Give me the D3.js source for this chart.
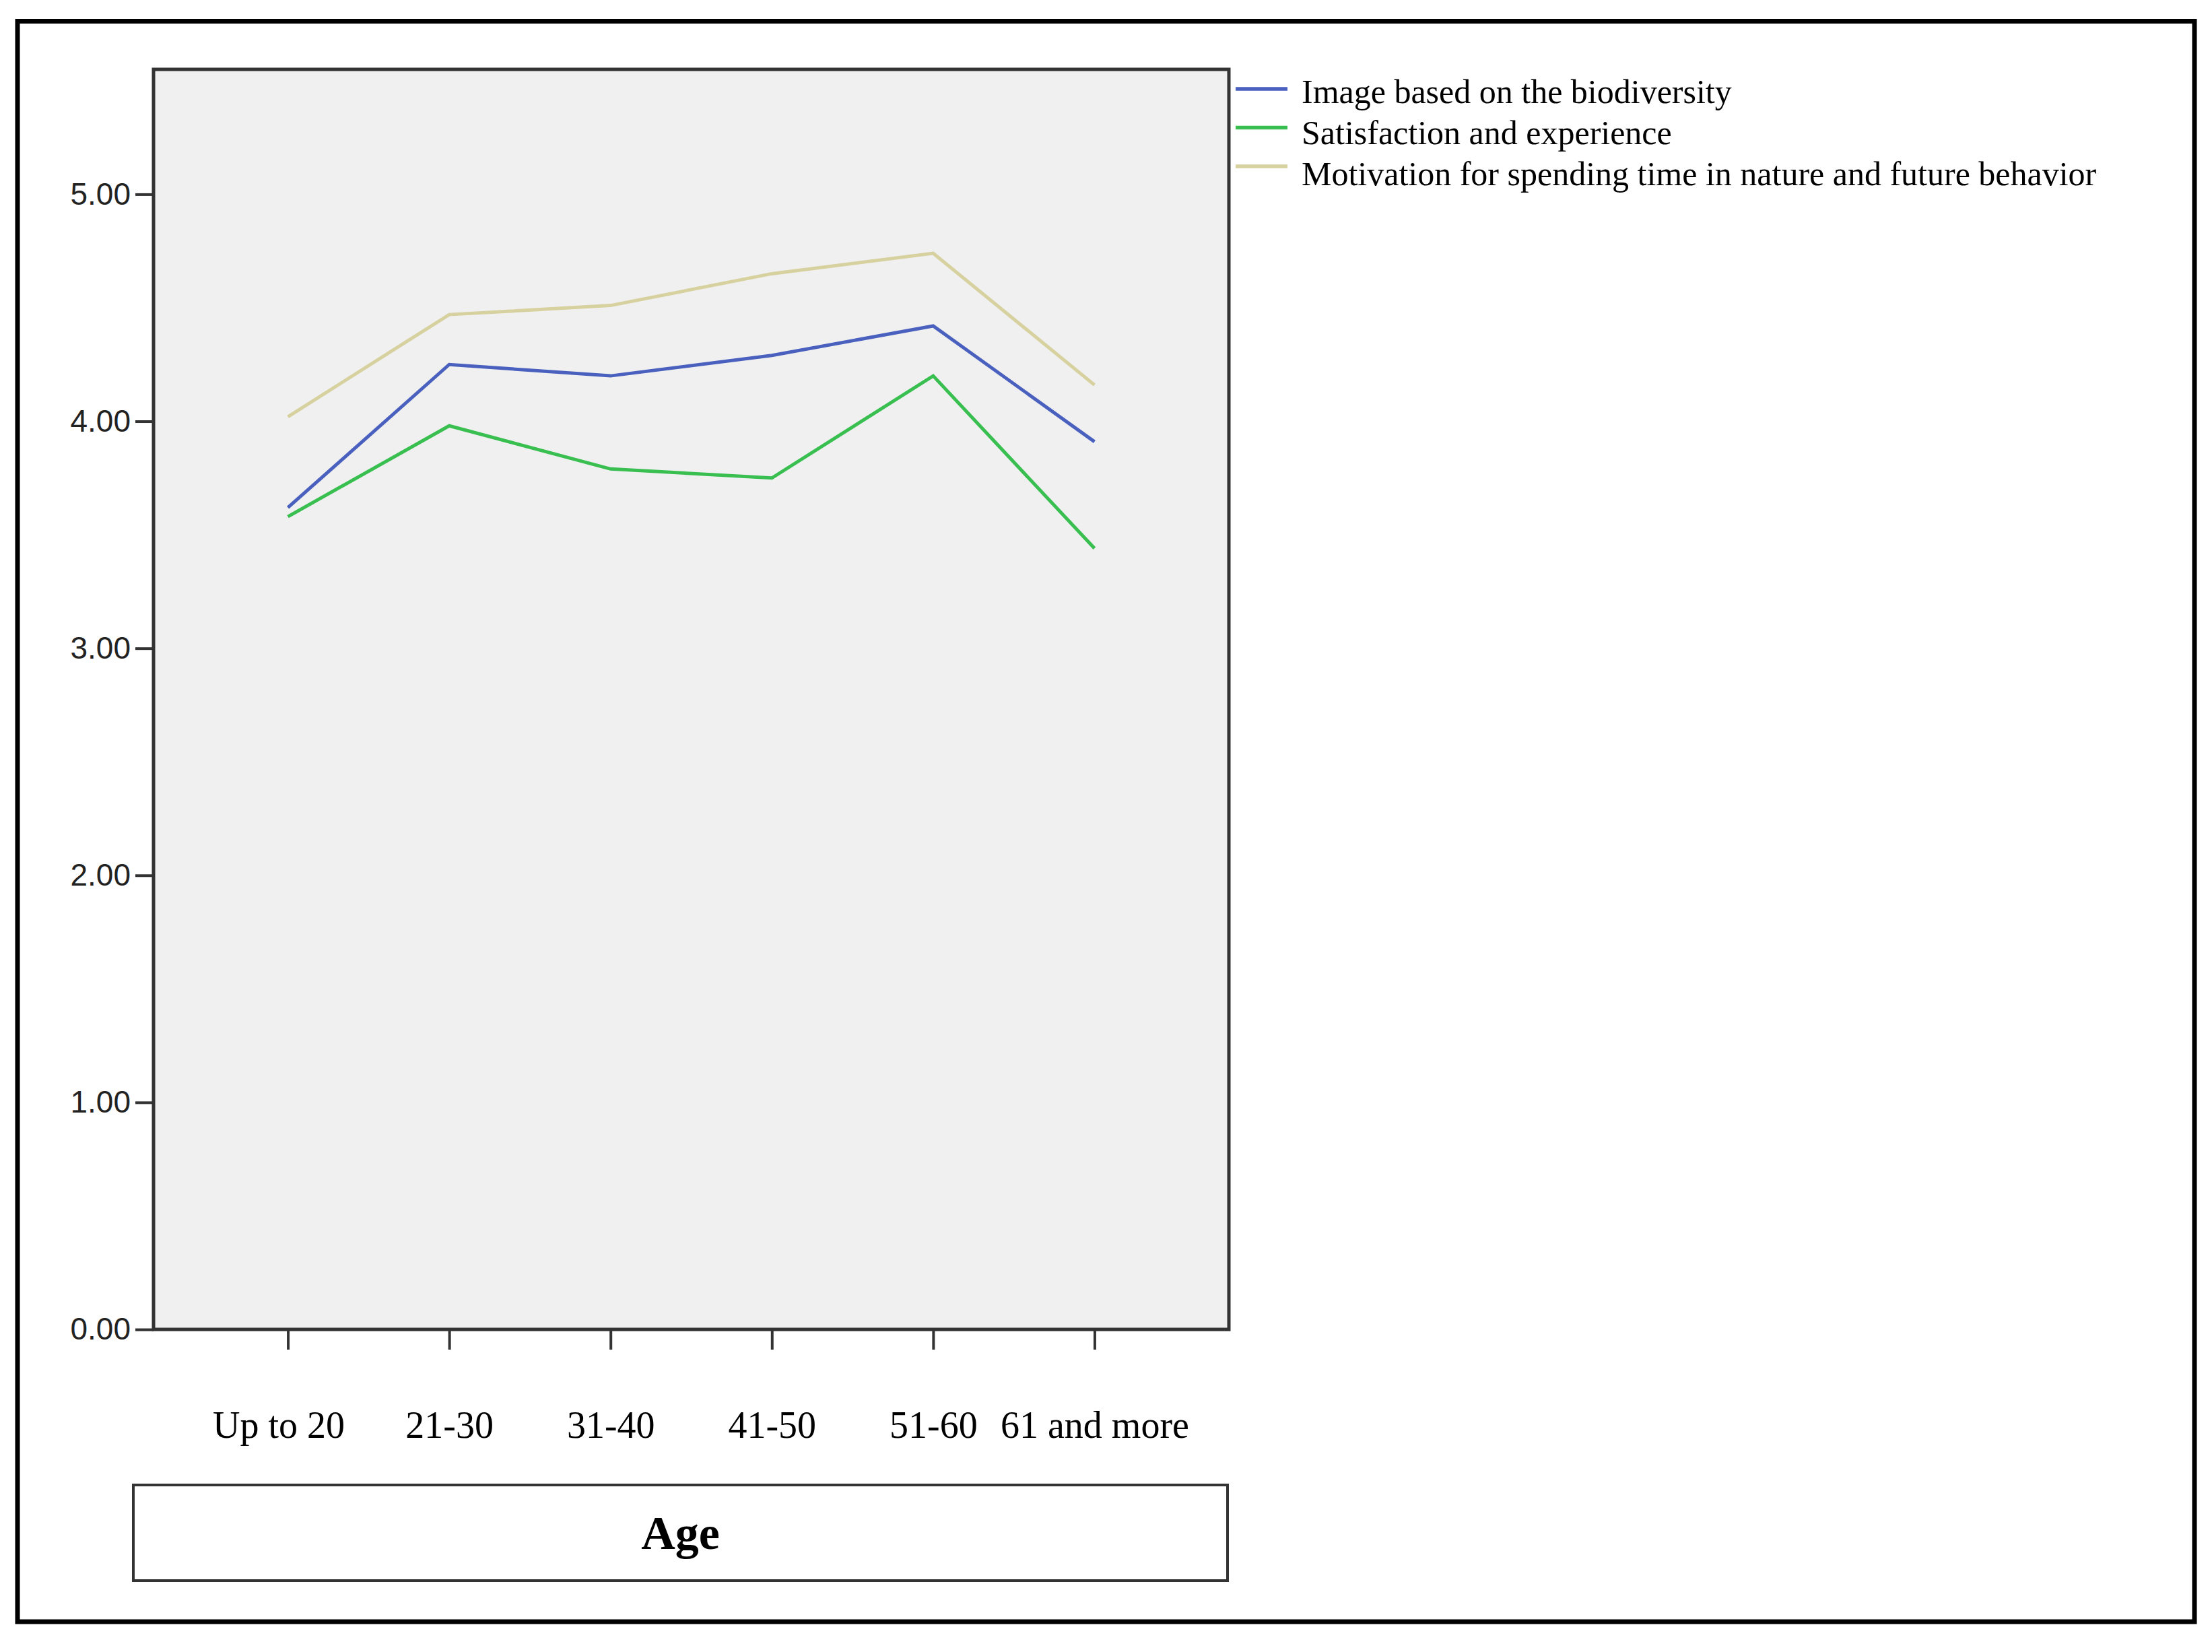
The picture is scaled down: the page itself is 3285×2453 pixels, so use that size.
<!DOCTYPE html>
<html>
<head>
<meta charset="utf-8">
<script src="https://cdn.jsdelivr.net/npm/d3@7"></script>
<style>
  html, body { margin: 0; padding: 0; background: #ffffff; }
  svg { display: block; }
</style>
</head>
<body>
<script>
// ---- data ----
const categories = ["Up to 20", "21-30", "31-40", "41-50", "51-60", "61 and more"];
const imageBiodiversity = [3.62, 4.25, 4.20, 4.29, 4.42, 3.91];
const satisfactionExperience = [3.58, 3.98, 3.79, 3.75, 4.20, 3.44];
const motivationNature = [4.02, 4.47, 4.51, 4.65, 4.74, 4.16];
const seriesNames = [
  "Image based on the biodiversity",
  "Satisfaction and experience",
  "Motivation for spending time in nature and future behavior"
];
const seriesColors = ["#4A60BE", "#38BF50", "#D6D19E"];
const yTicks = [0, 1, 2, 3, 4, 5];
const yMax = 5.55;
const xTitle = "Age";

// ---- layout ----
const W = 3285, H = 2453;
const plot = { left: 228, right: 1825, top: 103, bottom: 1974 };
const serif = "'Liberation Serif', 'Times New Roman', serif";
const sans = "'Liberation Sans', Arial, sans-serif";

const svg = d3.select("body").append("svg")
  .attr("width", W).attr("height", H)
  .attr("viewBox", `0 0 ${W} ${H}`);

svg.append("rect").attr("x", 0).attr("y", 0).attr("width", W).attr("height", H).attr("fill", "#ffffff");

// outer frame
svg.append("rect")
  .attr("x", 26).attr("y", 31.5)
  .attr("width", 3259 - 26).attr("height", 2408 - 31.5)
  .attr("fill", "none").attr("stroke", "#000").attr("stroke-width", 7);

const x = d3.scalePoint().domain(categories).range([plot.left, plot.right]).padding(0.833);
const y = d3.scaleLinear().domain([0, yMax]).range([plot.bottom, plot.top]);

// plot background
svg.append("rect")
  .attr("x", plot.left).attr("y", plot.top)
  .attr("width", plot.right - plot.left).attr("height", plot.bottom - plot.top)
  .attr("fill", "#f0f0f0");

// y axis
const yAxis = svg.append("g")
  .attr("transform", `translate(${plot.left},0)`)
  .call(d3.axisLeft(y).tickValues(yTicks).tickFormat(d3.format(".2f")).tickSize(27).tickPadding(7));
yAxis.select(".domain").remove();
yAxis.selectAll(".tick line").attr("stroke", "#333").attr("stroke-width", 4);
yAxis.selectAll(".tick text")
  .attr("font-family", sans).attr("font-size", 46).attr("fill", "#222");

// x axis
const xAxis = svg.append("g")
  .attr("transform", `translate(0,${plot.bottom})`)
  .call(d3.axisBottom(x).tickSize(30).tickPadding(0));
xAxis.select(".domain").remove();
xAxis.selectAll(".tick line").attr("stroke", "#333").attr("stroke-width", 4);
xAxis.selectAll(".tick text")
  .attr("font-family", serif).attr("font-size", 56).attr("fill", "#000")
  .attr("dy", null).attr("y", 2135 - plot.bottom)
  .attr("dx", (d, i) => i === 0 ? -14 : 0);

// plot border
svg.append("rect")
  .attr("x", plot.left).attr("y", plot.top)
  .attr("width", plot.right - plot.left).attr("height", plot.bottom - plot.top)
  .attr("fill", "none").attr("stroke", "#333").attr("stroke-width", 5);

// lines
const allSeries = [imageBiodiversity, satisfactionExperience, motivationNature];
const line = d3.line().x((d, i) => x(categories[i])).y(d => y(d));
svg.append("g").selectAll("path")
  .data(allSeries)
  .join("path")
  .attr("d", d => line(d))
  .attr("fill", "none")
  .attr("stroke", (d, i) => seriesColors[i])
  .attr("stroke-width", 5)
  .attr("stroke-linejoin", "miter");

// legend
const legendSwatchY = [132, 189.5, 247];
const legendTextY = [153, 214, 275];
const legend = svg.append("g");
legend.selectAll("line")
  .data(seriesNames)
  .join("line")
  .attr("x1", 1835).attr("x2", 1912)
  .attr("y1", (d, i) => legendSwatchY[i]).attr("y2", (d, i) => legendSwatchY[i])
  .attr("stroke", (d, i) => seriesColors[i])
  .attr("stroke-width", 5.5);
legend.selectAll("text")
  .data(seriesNames)
  .join("text")
  .attr("x", 1933)
  .attr("y", (d, i) => legendTextY[i])
  .attr("font-family", serif).attr("font-size", 50).attr("fill", "#000")
  .text(d => d);

// x title box
svg.append("rect")
  .attr("x", 198).attr("y", 2205)
  .attr("width", 1823 - 198).attr("height", 2347 - 2205)
  .attr("fill", "#fff").attr("stroke", "#333").attr("stroke-width", 4);
svg.append("text")
  .attr("x", (198 + 1823) / 2).attr("y", 2300)
  .attr("text-anchor", "middle")
  .attr("font-family", serif).attr("font-size", 70).attr("font-weight", "bold")
  .attr("fill", "#000")
  .text(xTitle);
</script>
</body>
</html>
